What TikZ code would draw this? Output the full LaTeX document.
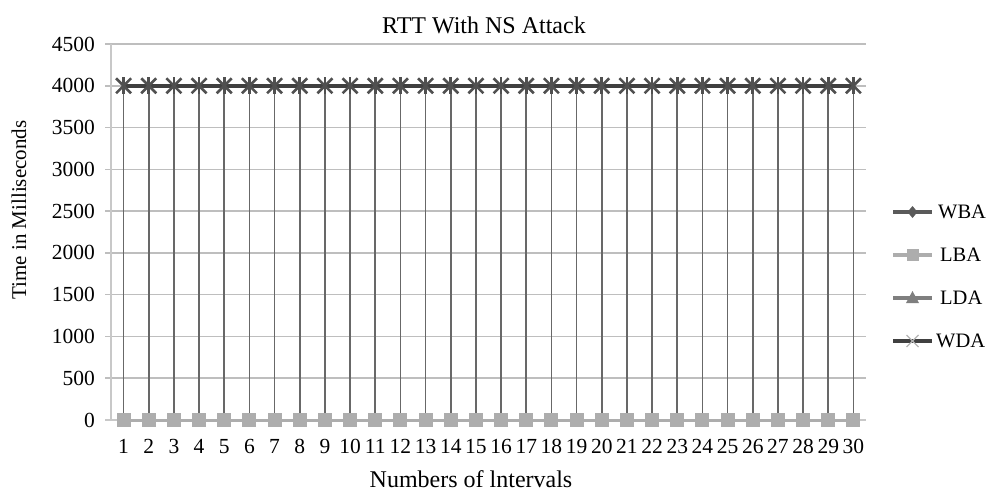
\documentclass[tikz,border=0pt]{standalone}
\usepackage{fontspec}
\setmainfont{Liberation Serif}
\usetikzlibrary{shapes.geometric,calc}
\definecolor{gridc}{HTML}{BEBEBE}
\definecolor{axisc}{HTML}{C8C8C8}
\definecolor{dropc}{HTML}{686868}
\definecolor{wdac}{HTML}{404040}
\definecolor{starc}{HTML}{505050}
\definecolor{lbac}{HTML}{ADADAD}
\definecolor{ldac}{HTML}{7F7F7F}
\definecolor{wbac}{HTML}{5A5A5A}
\definecolor{legxc}{HTML}{B4B4B4}
\begin{document}
\begin{tikzpicture}[x=1pt,y=-1pt,
  ticklab/.style={font=\fontsize{21.5}{23}\selectfont, inner sep=0pt},
  legtext/.style={font=\fontsize{20.5}{22}\selectfont, inner sep=0pt, anchor=west},
  titletext/.style={font=\fontsize{24}{26}\selectfont, inner sep=0pt},
  gridline/.style={gridc, line width=1.5},
  hiloline/.style={dropc, line width=1.7},
  legline/.style={line width=3.5},
]
\useasboundingbox (0,0) rectangle (990,493);
% horizontal grid lines
\foreach \v in {500,1000,...,4500}{
  \draw[gridline] (105,{420-0.0835556*\v}) -- (866,{420-0.0835556*\v});
}
% axes
\draw[axisc, line width=2] (111,44) -- (111,420);
\draw[axisc, line width=2] (105,420) -- (866,420);
% y tick labels
\foreach \v in {0,500,...,4500}{
  \node[ticklab, anchor=east] (ylab\v) at (95,{420-0.0835556*\v}) {\v};
}
% data point coordinates
\foreach \i in {1,...,30}{
  \coordinate (hi\i) at ({111+25.1667*(\i-0.5)},85.8);
  \coordinate (lo\i) at ({111+25.1667*(\i-0.5)},420);
}
% high-low lines
\foreach \i in {1,...,30}{
  \draw[hiloline] (hi\i) -- (lo\i);
}
% LBA series at 0
\draw[lbac, line width=3] (lo1) -- (lo30);
\foreach \i in {1,...,30}{
  \fill[lbac] ($(lo\i)+(-7,-7)$) rectangle ($(lo\i)+(7,7)$);
}
% WDA series at 4000
\draw[wdac, line width=4.5] (hi1) -- (hi30);
\foreach \i in {1,...,30}{
  \draw[starc, line width=2.6] ($(hi\i)+(-7.5,-7.5)$) -- ($(hi\i)+(7.5,7.5)$);
  \draw[starc, line width=2.6] ($(hi\i)+(-7.5,7.5)$) -- ($(hi\i)+(7.5,-7.5)$);
  \draw[starc, line width=2.6] ($(hi\i)+(0,-8.5)$) -- ($(hi\i)+(0,8.5)$);
}
% x tick labels
\foreach \i in {1,...,30}{
  \node[ticklab, anchor=base] (xlab\i) at ({111+25.1667*(\i-0.5)},453) {\i};
}
% titles
\node[titletext, anchor=base] (title) at (484,33) {RTT With NS Attack};
\node[titletext, anchor=base] (xtitle) at (471,487) {Numbers of lntervals};
\node[font=\fontsize{21}{23}\selectfont, inner sep=0pt, rotate=90] (ytitle) at (19,210) {Time in Milliseconds};
% legend
\coordinate (l1a) at (893,212); \coordinate (l1b) at (932,212); \coordinate (l1m) at (912.5,212);
\coordinate (l2a) at (893,255); \coordinate (l2b) at (932,255); \coordinate (l2m) at (912.5,255);
\coordinate (l3a) at (893,298); \coordinate (l3b) at (932,298); \coordinate (l3m) at (912.5,298);
\coordinate (l4a) at (893,341); \coordinate (l4b) at (932,341); \coordinate (l4m) at (912.5,341);
\draw[legline, wbac] (l1a) -- (l1b);
\fill[wbac] ($(l1m)+(0,-6)$) -- ($(l1m)+(5,0)$) -- ($(l1m)+(0,6)$) -- ($(l1m)+(-5,0)$) -- cycle;
\node[legtext] (legWBA) at (938,212) {WBA};
\draw[legline, lbac] (l2a) -- (l2b);
\fill[lbac] ($(l2m)+(-6,-6)$) rectangle ($(l2m)+(6,6)$);
\node[legtext] (legLBA) at (940,255) {LBA};
\draw[legline, ldac] (l3a) -- (l3b);
\fill[ldac] ($(l3m)+(0,-7)$) -- ($(l3m)+(6.5,5)$) -- ($(l3m)+(-6.5,5)$) -- cycle;
\node[legtext] (legLDA) at (940,298) {LDA};
\draw[legline, wdac, line width=4] (l4a) -- (l4b);
\draw[legxc, line width=1.2] ($(l4m)+(-6,-6)$) -- ($(l4m)+(6,6)$);
\draw[legxc, line width=1.2] ($(l4m)+(-6,6)$) -- ($(l4m)+(6,-6)$);
\node[legtext] (legWDA) at (936,341) {WDA};
\end{tikzpicture}
\end{document}
